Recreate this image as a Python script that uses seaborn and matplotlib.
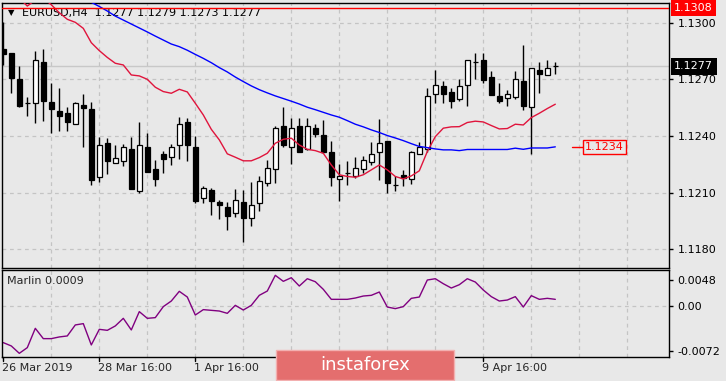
import numpy as np
import pandas as pd
import matplotlib
matplotlib.use("Agg")
import matplotlib.pyplot as plt
import matplotlib.transforms as mtransforms
from matplotlib.patches import Rectangle
import seaborn as sns

# ---------------- data (EURUSD H4) ----------------
opens = [1.12861, 1.12841, 1.12702, 1.12573, 1.12576, 1.12792, 1.12580, 1.12532, 1.12520, 1.12462,
         1.12564, 1.12543, 1.12181, 1.12361, 1.12259, 1.12269, 1.12331, 1.12110, 1.12342, 1.12225,
         1.12306, 1.12290, 1.12350, 1.12472, 1.12342, 1.12070, 1.12114, 1.12052, 1.12022, 1.11990,
         1.12050, 1.11964, 1.12043, 1.12149, 1.12223, 1.12451, 1.12342, 1.12451, 1.12331, 1.12441,
         1.12405, 1.12313, 1.12172, 1.12202, 1.12190, 1.12223, 1.12260, 1.12313, 1.12373, 1.12140,
         1.12193, 1.12170, 1.12303, 1.12331, 1.12621, 1.12665, 1.12631, 1.12596, 1.12668, 1.12790,
         1.12801, 1.12712, 1.12610, 1.12599, 1.12608, 1.12691, 1.12552, 1.12749, 1.12721, 1.12770]
highs = [1.13005, 1.12841, 1.12771, 1.12605, 1.12850, 1.12859, 1.12681, 1.12652, 1.12552, 1.12578,
         1.12621, 1.12578, 1.12396, 1.12388, 1.12350, 1.12358, 1.12396, 1.12472, 1.12418, 1.12273,
         1.12319, 1.12358, 1.12500, 1.12493, 1.12400, 1.12132, 1.12123, 1.12061, 1.12052, 1.12121,
         1.12112, 1.12156, 1.12185, 1.12271, 1.12453, 1.12552, 1.12493, 1.12493, 1.12493, 1.12463,
         1.12483, 1.12372, 1.12252, 1.12269, 1.12290, 1.12294, 1.12370, 1.12490, 1.12373, 1.12190,
         1.12220, 1.12322, 1.12370, 1.12652, 1.12749, 1.12691, 1.12654, 1.12702, 1.12801, 1.12838,
         1.12841, 1.12746, 1.12679, 1.12643, 1.12746, 1.12884, 1.12758, 1.12792, 1.12802, 1.12790]
lows = [1.12776, 1.12629, 1.12552, 1.12506, 1.12471, 1.12481, 1.12418, 1.12428, 1.12428, 1.12462,
        1.12340, 1.12139, 1.12158, 1.12200, 1.12255, 1.12238, 1.12121, 1.12100, 1.12211, 1.12137,
        1.12202, 1.12248, 1.12280, 1.12269, 1.12043, 1.12043, 1.11982, 1.11962, 1.11902, 1.11971,
        1.11840, 1.11920, 1.12001, 1.12132, 1.12149, 1.12340, 1.12250, 1.12317, 1.12326, 1.12396,
        1.12308, 1.12132, 1.12057, 1.12139, 1.12176, 1.12202, 1.12248, 1.12167, 1.12100, 1.12110,
        1.12132, 1.12146, 1.12303, 1.12315, 1.12573, 1.12573, 1.12550, 1.12587, 1.12559, 1.12700,
        1.12679, 1.12619, 1.12576, 1.12559, 1.12596, 1.12538, 1.12303, 1.12629, 1.12721, 1.12730]
closes = [1.12832, 1.12709, 1.12559, 1.12573, 1.12801, 1.12587, 1.12541, 1.12508, 1.12472, 1.12573,
          1.12550, 1.12167, 1.12350, 1.12269, 1.12282, 1.12340, 1.12121, 1.12350, 1.12211, 1.12169,
          1.12280, 1.12340, 1.12462, 1.12350, 1.12056, 1.12123, 1.12057, 1.12033, 1.11978, 1.12059,
          1.11967, 1.12033, 1.12160, 1.12229, 1.12442, 1.12352, 1.12441, 1.12317, 1.12451, 1.12409,
          1.12317, 1.12181, 1.12190, 1.12202, 1.12229, 1.12271, 1.12305, 1.12361, 1.12148, 1.12140,
          1.12179, 1.12313, 1.12342, 1.12610, 1.12668, 1.12621, 1.12587, 1.12663, 1.12801, 1.12790,
          1.12698, 1.12619, 1.12587, 1.12621, 1.12700, 1.12561, 1.12758, 1.12730, 1.12758, 1.12770]
ma_red = [1.13160, 1.13150, 1.13130, 1.13088, 1.13120, 1.13130, 1.13095, 1.13053, 1.13018, 1.13002,
          1.12970, 1.12894, 1.12852, 1.12816, 1.12785, 1.12776, 1.12723, 1.12718, 1.12700, 1.12658,
          1.12635, 1.12626, 1.12647, 1.12633, 1.12573, 1.12511, 1.12435, 1.12379, 1.12305, 1.12287,
          1.12268, 1.12268, 1.12285, 1.12308, 1.12361, 1.12382, 1.12388, 1.12352, 1.12329, 1.12322,
          1.12308, 1.12246, 1.12194, 1.12185, 1.12181, 1.12194, 1.12220, 1.12246, 1.12220, 1.12185,
          1.12172, 1.12188, 1.12215, 1.12317, 1.12396, 1.12441, 1.12448, 1.12449, 1.12471, 1.12478,
          1.12474, 1.12455, 1.12437, 1.12439, 1.12462, 1.12458, 1.12497, 1.12520, 1.12545, 1.12568]
ma_blue = [1.13340, 1.13320, 1.13300, 1.13280, 1.13260, 1.13230, 1.13210, 1.13190, 1.13170, 1.13150,
           1.13130, 1.13108, 1.13086, 1.13062, 1.13035, 1.13014, 1.12993, 1.12972, 1.12951, 1.12929,
           1.12908, 1.12887, 1.12873, 1.12854, 1.12832, 1.12811, 1.12788, 1.12762, 1.12739, 1.12712,
           1.12688, 1.12665, 1.12645, 1.12628, 1.12612, 1.12598, 1.12584, 1.12569, 1.12552, 1.12539,
           1.12525, 1.12511, 1.12499, 1.12481, 1.12462, 1.12448, 1.12432, 1.12418, 1.12402, 1.12389,
           1.12375, 1.12359, 1.12344, 1.12338, 1.12331, 1.12326, 1.12326, 1.12322, 1.12328, 1.12328,
           1.12328, 1.12328, 1.12328, 1.12328, 1.12335, 1.12329, 1.12336, 1.12336, 1.12336, 1.12342]
marlin = [-0.00472, -0.00515, -0.00611, -0.00537, -0.00286, -0.00420, -0.00420, -0.00398, -0.00385, -0.00242,
          -0.00225, -0.00502, -0.00299, -0.00312, -0.00255, -0.00156, -0.00307, -0.00069, -0.00156, -0.00147,
          -0.00004, 0.00069, 0.00195, 0.00121, -0.00113, -0.00043, -0.00052, -0.00061, -0.00091, 0.00013,
          -0.00048, 0.00013, 0.00143, 0.00199, 0.00403, 0.00325, 0.00372, 0.00264, 0.00359, 0.00320,
          0.00221, 0.00091, 0.00091, 0.00091, 0.00108, 0.00134, 0.00143, 0.00186, -0.00009, -0.00030,
          -0.00004, 0.00104, 0.00121, 0.00342, 0.00359, 0.00294, 0.00238, 0.00281, 0.00359, 0.00316,
          0.00212, 0.00126, 0.00069, 0.00082, 0.00126, -0.00009, 0.00139, 0.00091, 0.00104, 0.00091]

date_label_bars = [0, 12, 24, 60]
date_labels = ["26 Mar 2019", "28 Mar 16:00", "1 Apr 16:00", "9 Apr 16:00"]
price_ticks = [1.1180, 1.1210, 1.1240, 1.1270, 1.1300]
marlin_tick_labels = ["0.0048", "0.00", "-0.0072"]
alert_level = 1.1308
bid_price = 1.1277
ma_blue_last = 1.1234
header = "EURUSD,H4  1.1277 1.1279 1.1273 1.1277"
marlin_title = "Marlin 0.0009"
watermark = "instaforex"

# ---------------- style ----------------
sns.set_theme(style="white")
plt.rcParams['font.family'] = ['DejaVu Sans']
BG = '#e8e8e8'
W, H = 726, 381

df = pd.DataFrame({"bar": np.arange(len(opens)), "open": opens, "high": highs,
                   "low": lows, "close": closes, "ma_red": ma_red,
                   "ma_blue": ma_blue, "marlin": marlin})

fig = plt.figure(figsize=(W / 100, H / 100), dpi=100, facecolor=BG)


def fpos(x0, y0, x1, y1):
    return [x0 / W, 1 - y1 / H, (x1 - x0) / W, (y1 - y0) / H]


ax = fig.add_axes(fpos(2.3, 2.7, 669.3, 268.3))
ax2 = fig.add_axes(fpos(2.3, 270.0, 669.3, 356.7))
XL = (-0.125, 83.25)
for a in (ax, ax2):
    a.set_facecolor(BG)
    a.set_xlim(*XL)
    for s in a.spines.values():
        s.set_color('black')
        s.set_linewidth(1.0)
    a.set_xticks(np.arange(6, 84, 6))
    a.tick_params(axis='x', length=0, labelbottom=False)
    a.grid(True, axis='x', color='#c4c4c4', linestyle=(0, (3, 3)), linewidth=0.9)
    a.set_xlabel('')
    a.set_ylabel('')

# main price panel
ax.set_ylim(1.116983, 1.13106)
for p in price_ticks:
    ax.axhline(p, color='#c4c4c4', linestyle=(0, (3, 3)), linewidth=0.9, zorder=0)
ax.axhline(bid_price, color='#c8c8c8', linewidth=1.0, zorder=1)

ax.vlines(df["bar"], df["low"], df["high"], color='black', linewidth=1.0, zorder=2)
up = df["close"] >= df["open"]
body_lo = np.minimum(df["open"], df["close"])
body_h = np.abs(df["close"] - df["open"])
ax.bar(df["bar"], body_h, bottom=body_lo, width=0.62,
       color=np.where(up, 'white', 'black'), edgecolor='black', linewidth=0.9, zorder=3)

sns.lineplot(data=df, x="bar", y="ma_red", ax=ax, color='#e0143c', linewidth=1.0, zorder=4)
sns.lineplot(data=df, x="bar", y="ma_blue", ax=ax, color='#0000ff', linewidth=1.0, zorder=4)
ax.axhline(alert_level, color='#ff0000', linewidth=1.0, zorder=5)
ax.set_xlabel('')
ax.set_ylabel('')

ax.yaxis.tick_right()
ax.set_yticks(price_ticks)
ax.set_yticklabels([f"{p:.4f}" for p in price_ticks])
ax.tick_params(axis='y', right=True, length=3, width=1, pad=3, labelsize=8, colors='black')

trans = mtransforms.blended_transform_factory(ax.transAxes, ax.transData)
ax.text(1.0075, alert_level, f"{alert_level:.4f}", transform=trans, color='white', fontsize=8,
        va='center', ha='left', clip_on=False, zorder=10,
        bbox=dict(facecolor='#ff0000', edgecolor='none', boxstyle='square,pad=0.28'))
ax.text(1.0075, bid_price, f"{bid_price:.4f}", transform=trans, color='white', fontsize=8,
        va='center', ha='left', clip_on=False, zorder=10,
        bbox=dict(facecolor='black', edgecolor='none', boxstyle='square,pad=0.32'))
ax.plot([71.1, 72.4], [ma_blue_last, ma_blue_last], color='#ff0000', linewidth=1.0)
ax.text(72.75, ma_blue_last, f"{ma_blue_last:.4f}", color='#ff0000', fontsize=8,
        va='center', ha='left', zorder=10,
        bbox=dict(facecolor=BG, edgecolor='#ff0000', linewidth=1.0, boxstyle='square,pad=0.2'))

ax.text(0.009, 0.962, "\u25BC", transform=ax.transAxes, fontsize=6, va='center', ha='left', color='black')
ax.text(0.029, 0.962, header, transform=ax.transAxes, fontsize=8, va='center', ha='left', color='black')

# Marlin panel
sns.lineplot(data=df, x="bar", y="marlin", ax=ax2, color='#800080', linewidth=1.0)
ax2.set_xlabel('')
ax2.set_ylabel('')
ax2.set_ylim(-0.006548, 0.004723)
ax2.axhline(0, color='#c4c4c4', linestyle=(0, (3, 3)), linewidth=0.9, zorder=0)
ax2.yaxis.tick_right()
ax2.set_yticks([0.003422, 0.0, -0.005807])
ax2.set_yticklabels(marlin_tick_labels)
ax2.tick_params(axis='y', right=True, length=3, width=1, pad=3, labelsize=8, colors='black')
ax2.text(0.007, 0.873, marlin_title, transform=ax2.transAxes, fontsize=8, va='center', ha='left')

trans2 = mtransforms.blended_transform_factory(ax2.transData, ax2.transAxes)
for b, lab in zip(date_label_bars, date_labels):
    ax2.plot([b, b], [0, -0.05], transform=trans2, color='black', linewidth=1.0, clip_on=False)
    ax2.text(b - 0.12, -0.135, lab, transform=trans2, fontsize=8, va='center', ha='left',
             clip_on=False)

# watermark
fig.patches.append(Rectangle((275.6 / W, 1 - 380 / H), 178.4 / W, 30 / H, transform=fig.transFigure,
                             facecolor='#e46e6e', edgecolor='#f3b0b0', linewidth=1.0, zorder=20))
fig.text(364.8 / W, 1 - 364.5 / H, watermark, color='white', fontsize=13, ha='center', va='center',
         zorder=21)

fig.savefig("out.png", dpi=100, facecolor=BG)
